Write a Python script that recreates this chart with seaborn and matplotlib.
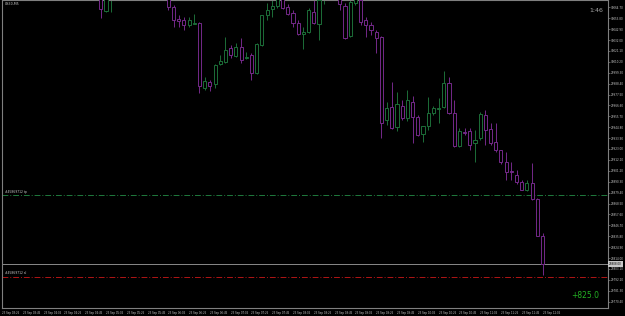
import matplotlib
matplotlib.use("Agg")
import matplotlib.pyplot as plt
import seaborn as sns
import numpy as np
import pandas as pd

sns.set_style("dark")
plt.rcParams['font.family'] = ['DejaVu Sans']

# ---- data (US30, M5 candles) ----
opens = [30078, 30061, 30076, 30082, 30087, 30097, 30094, 30086, 30096, 30092,
         30082, 30090, 30084, 30076, 30065, 30053, 30052, 30047, 30048.5, 30049,
         29984, 29990, 29988, 30008, 30010, 30024, 30016, 30025, 30014.5, 30017,
         29999, 30027, 30057, 30063, 30066, 30074, 30065, 30059, 30049, 30038,
         30040, 30060, 30048, 30077, 30082, 30087, 30075, 30066, 30036, 30069,
         30072, 30052, 30047, 30040, 30035, 29952, 29965, 29945, 29966, 29954,
         29970, 29955, 29938, 29946, 29959, 29963.5, 29965, 29989, 29959, 29926,
         29940.5, 29941, 29929, 29934, 29957, 29943, 29930, 29922, 29910, 29901.5,
         29897, 29890, 29882, 29889, 29873, 29836]
highs = [30082, 30080, 30084, 30092, 30100, 30107, 30102, 30098, 30104, 30099,
         30094, 30097, 30092, 30080, 30067, 30057, 30055, 30055, 30058, 30050,
         29995, 29992, 30008, 30017, 30035, 30027, 30029, 30034, 30020, 30019,
         30029, 30057, 30069, 30072, 30075, 30078, 30068, 30062, 30052, 30045,
         30064, 30072, 30074, 30082, 30092, 30094, 30080, 30069, 30074, 30077,
         30075, 30055, 30050, 30042, 30036, 29970, 29990, 29980, 29972, 29982,
         29976, 29957, 29946, 29975, 29966, 29974, 30001, 29995, 29972, 29944,
         29944, 29944, 29942, 29960, 29962, 29949, 29949, 29922, 29920, 29910,
         29902, 29892, 29892, 29909, 29874, 29839]
lows = [30054, 30060, 30060, 30074, 30084, 30092, 30082, 30080, 30090, 30078,
        30076, 30080, 30075, 30062, 30045, 30045, 30042, 30045, 30048, 29979,
        29982, 29981, 29984, 30007, 30009, 30014, 30015, 30009, 30013, 29992,
        29998, 30026, 30052, 30055, 30064, 30063, 30057, 30045, 30037, 30023,
        30039, 30048, 30032, 30068, 30074, 30075, 30062, 30033, 30035, 30067,
        30047, 30035, 30037, 30019, 29934, 29947, 29943, 29941, 29952, 29951,
        29929, 29936, 29930, 29942, 29957, 29949, 29964, 29958, 29925, 29925,
        29937, 29922, 29910, 29932, 29927, 29927, 29920, 29908, 29892, 29892,
        29888, 29882, 29881, 29872, 29836, 29797]
closes = [30063, 30076, 30080, 30087, 30097, 30094, 30086, 30096, 30092, 30082,
          30090, 30084, 30077, 30065, 30052, 30051, 30047, 30052, 30049.5, 29986,
          29991, 29986, 30007, 30011, 30022, 30017, 30025, 30012, 30015.5, 29999,
          30028, 30057, 30062, 30066, 30073, 30064, 30058, 30049, 30038, 30040,
          30062, 30049, 30072, 30080, 30087, 30080, 30068, 30034, 30070, 30074,
          30050, 30047, 30042, 30034, 29949, 29964, 29944, 29968, 29954, 29972,
          29955, 29937, 29946, 29959, 29964, 29964.5, 29989, 29959, 29926, 29941,
          29939.5, 29927, 29932, 29958, 29942, 29929, 29922, 29910, 29900, 29900.5,
          29890, 29882, 29889, 29873, 29836, 29808]

price_ticks = [30064.7, 30053.8, 30042.9, 30032.0, 30021.1, 30010.2, 29999.3,
               29988.4, 29977.5, 29966.6, 29955.7, 29944.8, 29933.9, 29923.0,
               29912.1, 29901.2, 29890.3, 29879.4, 29868.5, 29857.6, 29846.7,
               29835.8, 29824.9, 29814.0, 29803.1, 29792.2, 29781.3, 29770.4]
time_labels = ["23 Sep 03:25", "23 Sep 03:45", "23 Sep 04:05", "23 Sep 04:25",
               "23 Sep 04:45", "23 Sep 05:05", "23 Sep 05:25", "23 Sep 05:45",
               "23 Sep 06:05", "23 Sep 06:25", "23 Sep 06:45", "23 Sep 07:05",
               "23 Sep 07:25", "23 Sep 07:45", "23 Sep 08:05", "23 Sep 08:25",
               "23 Sep 08:45", "23 Sep 09:05", "23 Sep 09:25", "23 Sep 09:45",
               "23 Sep 10:05", "23 Sep 10:25", "23 Sep 10:45", "23 Sep 11:05",
               "23 Sep 11:25", "23 Sep 11:45", "23 Sep 12:05"]
time_tick_index = [-19, -15, -11, -7, -3, 1, 5, 9, 13, 17, 21, 25, 29, 33, 37,
                   41, 45, 49, 53, 57, 61, 65, 69, 73, 77, 81, 85]

tp_level = 29877
sl_level = 29795
bid = closes[-1]
profit_text = "+825.0"
symbol_text = "US30,M5"
timer_text = "1:46"

df = pd.DataFrame({"open": opens, "high": highs, "low": lows, "close": closes})
df["idx"] = np.arange(len(df))
df["bull"] = df["close"] >= df["open"]

BULL = "#1c6e38"
BEAR = "#74298a"
AXC = "#7f7f7f"
TXT = "#c8c8c8"

fig = plt.figure(figsize=(6.25, 3.16), dpi=100, facecolor="black")
ax = fig.add_axes([2/625, 8/316, 606/625, 308/316])
ax.set_facecolor("black")

for bull, sub in df.groupby("bull"):
    col = BULL if bull else BEAR
    ax.vlines(sub["idx"], sub["low"], sub["high"], color=col, lw=0.7, zorder=2)
    lo = np.minimum(sub["open"], sub["close"])
    hi = np.maximum(sub["open"], sub["close"])
    ax.bar(sub["idx"], np.maximum(hi - lo, 0.4), bottom=lo, width=0.6,
           facecolor="black", edgecolor=col, linewidth=0.7, zorder=3)

# order levels
ax.axhline(tp_level, color="#1f7a3d", lw=0.7, ls=(0, (6, 2, 1, 2)), zorder=1)
ax.axhline(sl_level, color="#b01515", lw=0.7, ls=(0, (6, 2, 1, 2)), zorder=1)
ax.axhline(bid, color="#8a8a8a", lw=0.7, zorder=1)
ax.text(0.005, tp_level + 1.5, "#45869712 tp", transform=ax.get_yaxis_transform(),
        color=TXT, fontsize=2.2, va="bottom", ha="left")
ax.text(0.005, sl_level + 1.5, "#45869712 sl", transform=ax.get_yaxis_transform(),
        color=TXT, fontsize=2.2, va="bottom", ha="left")

ax.set_xlim(-18.94, 97.6)
ax.set_ylim(29764, 30072)

for s in ax.spines.values():
    s.set_color(AXC)
    s.set_linewidth(0.8)

ax.yaxis.tick_right()
ax.set_yticks(price_ticks)
ax.set_yticklabels([f"{v:.2f}" for v in price_ticks])
ax.tick_params(axis="y", colors=AXC, labelcolor=TXT, labelsize=2.0, length=1.2,
               width=0.5, pad=0.8)
ax.set_xticks(time_tick_index)
ax.set_xticklabels(time_labels, ha="left")
ax.tick_params(axis="x", colors=AXC, labelcolor=TXT, labelsize=1.9, length=1.2,
               width=0.5, pad=0.8)
ax.grid(False)

ax.text(1.002, bid, f"{bid:.2f}", transform=ax.get_yaxis_transform(),
        fontsize=2.0, color="black", va="center", ha="left",
        bbox=dict(boxstyle="square,pad=0.3", fc="#c8c8c8", ec="none"))

ax.text(0.005, 0.995, symbol_text, transform=ax.transAxes, color=TXT,
        fontsize=2.3, va="top", ha="left")
ax.text(0.992, 0.965, timer_text, transform=ax.transAxes, color="#a8a8a8",
        fontsize=4.5, va="center", ha="right")
ax.text(0.985, 0.04, profit_text, transform=ax.transAxes, color="#23b023",
        fontsize=5.5, va="center", ha="right")

fig.savefig("out.png", dpi=100, facecolor="black")
